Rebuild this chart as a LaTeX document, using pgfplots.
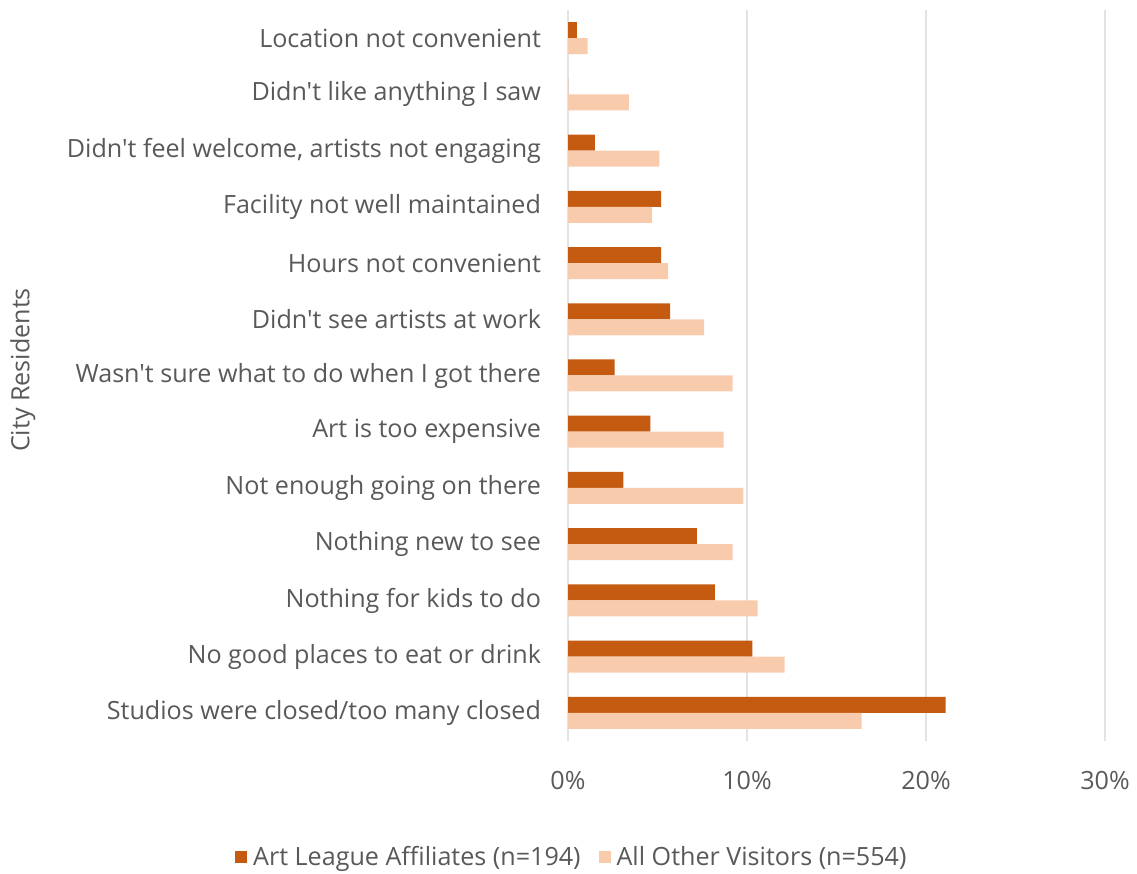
\documentclass[border=0pt]{standalone}
\usepackage{pgfplots}
\pgfplotsset{compat=1.18}
\usepackage{fontspec}
\setmainfont{Open Sans}[Ligatures=TeXOff]
\definecolor{darkor}{HTML}{C55A11}
\definecolor{lightor}{HTML}{F8CBAD}
\definecolor{txt}{HTML}{595959}
\definecolor{gridc}{HTML}{E3E3E3}
\begin{document}
\begin{tikzpicture}
\useasboundingbox (0,0) rectangle (568.5bp,437bp);
\begin{axis}[
  at={(284bp,66.5bp)}, anchor=south west,
  scale only axis, width=268.5bp, height=365.5bp,
  xbar, bar width=8bp,
  xmin=0, xmax=30, ymin=-0.5, ymax=12.5,
  xtick={0,10,20,30},
  xticklabel={\pgfmathprintnumber{\tick}\%},
  /pgf/number format/assume math mode=true,
  ytick={0,...,12},
  yticklabels={Studios were closed/too many closed,No good places to eat or drink,Nothing for kids to do,Nothing new to see,Not enough going on there,Art is too expensive,Wasn't sure what to do when I got there,Didn't see artists at work,Hours not convenient,Facility not well maintained,{Didn't feel welcome, artists not engaging},Didn't like anything I saw,Location not convenient},
  xmajorgrids=true, ymajorgrids=false,
  major grid style={draw=gridc, line width=0.6bp},
  axis x line*=bottom, axis y line*=left,
  x axis line style={draw=none},
  y axis line style={draw=gridc, line width=0.6bp},
  tick style={draw=none},
  major tick length=0pt,
  tick label style={font=\fontsize{12.6}{15}\selectfont, text=txt},
  yticklabel style={xshift=-10bp},
  xticklabel style={yshift=-11.5bp},
  ylabel={City Residents},
  ylabel style={font=\fontsize{12.6}{15}\selectfont, text=txt, at={(axis description cs:-1.015,0.5075)}, anchor=center, rotate=0},
  legend columns=2,
  legend style={draw=none, font=\fontsize{12.6}{15}\selectfont, text=txt,
    at={(axis description cs:0.009,-0.159)}, anchor=center,
    /tikz/every odd column/.append style={column sep=1bp},
    /tikz/every even column/.append style={column sep=7bp}},
  legend image code/.code={\fill[#1] (0bp,-3bp) rectangle (6bp,3bp);},
]
\addplot[fill=darkor, draw=none, bar shift=4bp] coordinates {
(21.1,0) (10.3,1) (8.2,2) (7.2,3) (3.1,4) (4.6,5) (2.6,6) (5.7,7) (5.2,8) (5.2,9) (1.5,10) (0,11) (0.5,12)};
\addlegendentry{Art League Affiliates (n=194)}
\addplot[fill=lightor, draw=none, bar shift=-4bp] coordinates {
(16.4,0) (12.1,1) (10.6,2) (9.2,3) (9.8,4) (8.7,5) (9.2,6) (7.6,7) (5.6,8) (4.7,9) (5.1,10) (3.4,11) (1.1,12)};
\addlegendentry{All Other Visitors (n=554)}
\end{axis}
\end{tikzpicture}
\end{document}
